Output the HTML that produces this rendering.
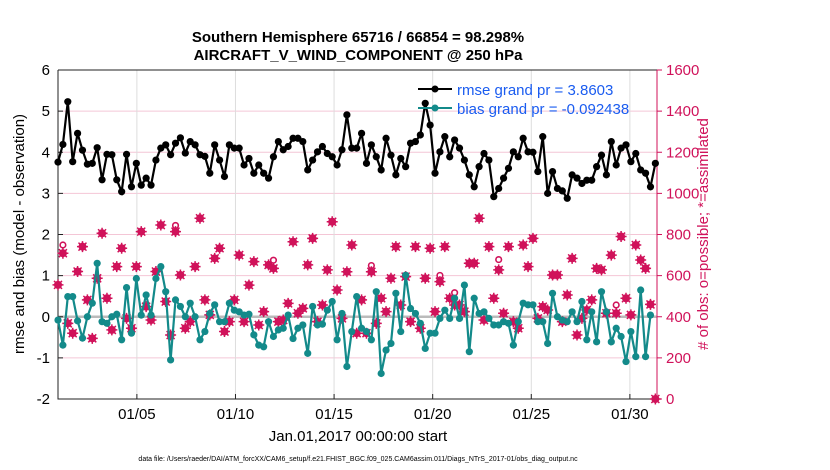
<!DOCTYPE html>
<html><head><meta charset="utf-8"><style>
html,body{margin:0;padding:0;background:#fff;}
svg{display:block;font-family:"Liberation Sans",Arial,sans-serif;}
</style></head><body>
<svg id="chart" width="830" height="470" viewBox="0 0 830 470">
<g id="grid"></g>
<g id="axes"></g>
<g id="marks"></g>
<text x="358" y="42" text-anchor="middle" font-size="15" font-weight="bold">Southern Hemisphere 65716 / 66854 = 98.298%</text>
<text x="358" y="60" text-anchor="middle" font-size="15" font-weight="bold">AIRCRAFT_V_WIND_COMPONENT @ 250 hPa</text>
<text transform="translate(24,234) rotate(-90)" text-anchor="middle" font-size="15">rmse and bias (model - observation)</text>
<text transform="translate(708,234) rotate(-90)" text-anchor="middle" font-size="15" fill="#d0125a"># of obs: o=possible; *=assimilated</text>
<text x="358" y="441" text-anchor="middle" font-size="15">Jan.01,2017 00:00:00 start</text>
<text x="358" y="461" text-anchor="middle" font-size="7">data file: /Users/raeder/DAI/ATM_forcXX/CAM6_setup/f.e21.FHIST_BGC.f09_025.CAM6assim.011/Diags_NTrS_2017-01/obs_diag_output.nc</text>
<g>
<line x1="418" y1="89" x2="452" y2="89" stroke="#000" stroke-width="2"/>
<circle cx="435" cy="89" r="3.5" fill="#000"/>
<text x="457" y="95" font-size="15" fill="#1a5cf0">rmse grand pr = 3.8603</text>
<line x1="418" y1="108" x2="452" y2="108" stroke="#138a8a" stroke-width="2"/>
<circle cx="435" cy="108" r="3.5" fill="#138a8a"/>
<text x="457" y="114" font-size="15" fill="#1a5cf0">bias grand pr = -0.092438</text>
</g>
</svg>
<script>
const xTickLabels = ["01/05","01/10","01/15","01/20","01/25","01/30"];
const xTickDays = [5,10,15,20,25,30];
const yTicksLeft = [-2,-1,0,1,2,3,4,5,6];
const yTicksRight = [0,200,400,600,800,1000,1200,1400,1600];
const rmse = [3.76,4.19,5.23,3.77,4.46,4.05,3.71,3.73,4.11,3.33,3.95,3.94,3.33,3.04,3.95,3.16,3.73,3.2,3.37,3.2,3.81,4.1,4.18,3.94,4.22,4.35,3.98,4.26,4.18,3.94,3.9,3.49,
4.18,3.81,3.41,4.18,4.10,4.10,3.69,3.85,3.49,3.69,3.49,3.37,3.89,4.26,4.06,4.14,4.34,4.34,4.26,3.57,3.81,4.01,4.14,3.97,3.89,3.69,4.06,4.91,4.10,4.10,4.46,
3.73,4.18,3.89,3.57,4.34,3.93,3.45,3.85,3.65,4.22,4.26,4.42,5.19,4.66,3.49,4.01,4.38,3.89,4.30,4.10,3.81,3.45,3.16,3.65,3.97,3.81,2.92,3.12,3.37,3.61,4.01,
3.89,4.34,4.01,4.0,3.53,4.38,3.0,3.53,3.12,3.06,2.88,3.45,3.37,3.24,3.32,3.32,3.65,3.93,3.45,4.26,3.69,4.1,4.18,3.77,3.97,3.57,3.49,3.16,3.73];
const bias = [-0.08,-0.69,0.49,0.49,-0.10,-0.52,0,0.33,1.3,-0.12,-0.16,0,0.06,-0.56,0.71,-0.40,0.93,0.04,0.53,0.04,0.93,1.22,0.61,-1.05,0.41,0.25,0,0.33,0,-0.56,-0.36,0.08,
0.29,-0.12,-0.12,0.33,0.16,0.12,0.04,0.06,-0.44,-0.69,-0.73,-0.12,-0.48,-0.32,-0.28,0.04,-0.53,-0.28,-0.2,-0.89,0.25,-0.2,-0.18,0.16,0.37,-0.56,0.08,-1.21,-0.36,0.49,-0.28,
-0.36,-0.56,0.61,-1.38,-0.81,-0.65,0.57,-0.36,1.01,0.2,0.08,-0.16,-0.77,-0.4,-0.4,-0.04,0.16,-0.04,0.45,-0.04,0.77,-0.85,0.45,0.08,0.12,-0.04,-0.2,-0.2,-0.12,-0.16,-0.69,
-0.12,0.33,0.29,0.29,-0.12,-0.12,-0.65,0.57,0,-0.08,-0.12,0.12,-0.12,0.37,-0.56,0.12,-0.61,0.61,0.12,-0.61,-0.28,-0.48,-1.09,-0.36,-0.97,0.65,-0.97,0.04];
const nAssim = [555,709,368,320,620,741,482,295,587,806,490,336,644,733,392,344,644,814,449,384,620,846,474,311,814,603,344,376,644,879,482,409,
684,733,328,376,482,700,376,554,668,360,425,652,635,376,384,465,765,417,441,652,781,376,457,628,862,530,392,619,749,320,482,
320,619,368,490,425,587,741,457,595,376,741,344,587,733,425,571,741,490,457,457,425,660,660,879,384,741,490,628,417,741,376,
344,749,644,781,392,449,433,603,603,376,506,684,311,392,433,482,635,628,417,700,417,790,490,409,749,676,635,460,0];
const nPossIdx = [1,24,44,64,78,81,90,114];
const nPossExtra = [40,30,40,30,30,60,50,40];

const NS="http://www.w3.org/2000/svg";
const L=58,R=657,T=70,B=399;
const xs=d=>L+(d-1)*19.72;
const yl=v=>T+(6-v)*(B-T)/8;
const yr=v=>B-v*(B-T)/1600;
const tOf=i=>1+i*0.2483;
function mk(tag,attrs,parent){const e=document.createElementNS(NS,tag);for(const k in attrs)e.setAttribute(k,attrs[k]);parent.appendChild(e);return e;}
const grid=document.getElementById('grid'),axes=document.getElementById('axes'),marks=document.getElementById('marks');
yTicksLeft.forEach((v,i)=>{
  if(v>-2&&v<6){const g=mk('line',{x1:L,x2:R,y1:yl(v),y2:yl(v),stroke:'#f4c6d6','stroke-width':1},grid);
  
  }
  const t=mk('text',{x:L-8,y:yl(v)+5,'text-anchor':'end','font-size':15},axes);t.textContent=v;
  
  
  mk('line',{x1:L,x2:L+5,y1:yl(v),y2:yl(v),stroke:'#222'},axes);
});
yTicksRight.forEach(v=>{
  const t=mk('text',{x:R+9,y:yr(v)+5,'font-size':15,fill:'#d0125a'},axes);t.textContent=v;
  
  
  mk('line',{x1:R,x2:R+5,y1:yr(v),y2:yr(v),stroke:'#d0125a'},axes);
});
xTickDays.forEach((d,i)=>{
  const g=mk('line',{x1:xs(d),x2:xs(d),y1:T,y2:B,stroke:'#ddd'},grid);
  
  
  mk('line',{x1:xs(d),x2:xs(d),y1:B,y2:B-5,stroke:'#222'},axes);
  const t=mk('text',{x:xs(d),y:419,'text-anchor':'middle','font-size':15},axes);t.textContent=xTickLabels[i];
  
  
});
const zl=mk('line',{x1:L,x2:R,y1:yl(0),y2:yl(0),stroke:'#bbb','stroke-width':2.5},grid);


mk('path',{d:`M${L},${T}H${R}M${L},${T}V${B}H${R}`,stroke:'#222',fill:'none'},axes);
mk('line',{x1:R,x2:R,y1:T,y2:B,stroke:'#d0125a'},axes);
const cg=mk('g',{},marks);


nAssim.forEach((n,i)=>{
  const x=xs(tOf(i)),y=yr(n);
  const k=nPossIdx.indexOf(i);
  if(k>=0){const c=mk('circle',{cx:x,cy:yr(n+nPossExtra[k]),r:2.8,fill:'#fff',stroke:'#d0125a','stroke-width':1.6},cg);
  
  }
  const s=mk('g',{},cg);
  
  
  mk('circle',{cx:x,cy:y,r:4,fill:'#d0125a'},s);
  mk('path',{d:`M${x-5.5},${y}H${x+5.5}M${x},${y-5.5}V${y+5.5}M${x-4},${y-4}L${x+4},${y+4}M${x-4},${y+4}L${x+4},${y-4}`,stroke:'#d0125a','stroke-width':1.5},s);
});
function series(arr,col,name){
  const g=mk('g',{},marks);
  
  
  mk('polyline',{points:arr.map((v,i)=>xs(tOf(i))+','+yl(v)).join(' '),fill:'none',stroke:col,'stroke-width':2.2},g);
  arr.forEach((v,i)=>{const c=mk('circle',{cx:xs(tOf(i)),cy:yl(v),r:3.6,fill:col},g);
    
    });
}
series(bias,'#138a8a','bias-series');
series(rmse,'#000','rmse-series');
</script>
</body></html>
